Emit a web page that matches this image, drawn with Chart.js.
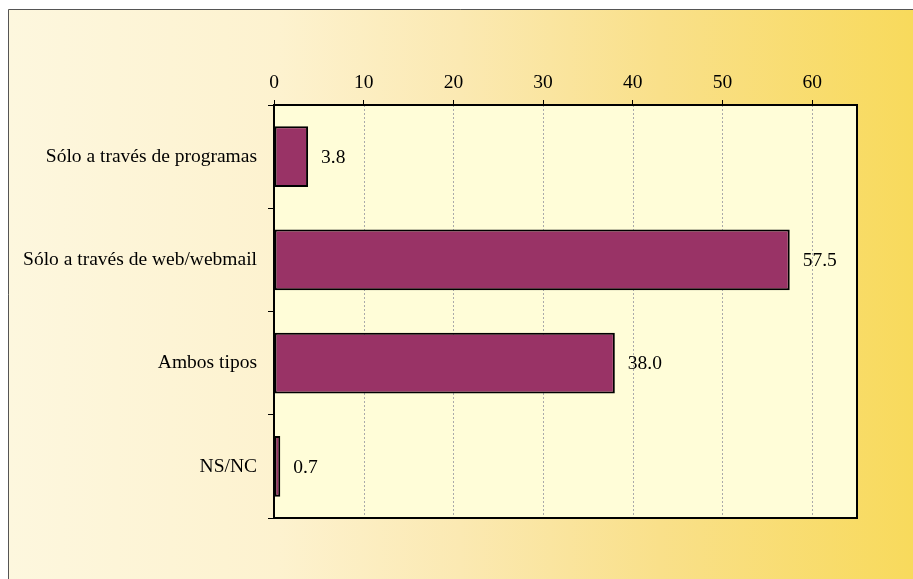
<!DOCTYPE html>
<html>
<head>
<meta charset="utf-8">
<script src="https://cdn.jsdelivr.net/npm/chart.js@4.4.0/dist/chart.umd.min.js"></script>
<style>
  html, body { margin: 0; padding: 0; background: #fff; }
  #wrap { width: 913px; height: 579px; }
</style>
</head>
<body>
<div id="wrap"><canvas id="grafico" width="913" height="579"></canvas></div>
<script>
const categorias = ['Sólo a través de programas', 'Sólo a través de web/webmail', 'Ambos tipos', 'NS/NC'];
const valores = [3.8, 57.5, 38.0, 0.7];
const ticksX = [0, 10, 20, 30, 40, 50, 60];

const fuente = "'Liberation Serif', 'Times New Roman', serif";
const tamFuente = 19.5;

// fondo con degradado, borde exterior y fondo del area de trazado
const fondoPlugin = {
    id: 'fondo',
    beforeDraw(chart) {
        const ctx = chart.ctx;
        const w = chart.width, h = chart.height;
        ctx.save();
        const g = ctx.createLinearGradient(8, 0, w, 0);
        g.addColorStop(0, '#fdf7de');
        g.addColorStop(0.3, '#fdf2cf');
        g.addColorStop(0.5, '#fbe9b2');
        g.addColorStop(0.72, '#f9e08a');
        g.addColorStop(1, '#f8da5c');
        ctx.fillStyle = g;
        ctx.fillRect(8, 9, w - 8, h - 9);
        ctx.strokeStyle = '#555';
        ctx.lineWidth = 1;
        ctx.beginPath();
        ctx.moveTo(8.5, h);
        ctx.lineTo(8.5, 9.5);
        ctx.lineTo(w, 9.5);
        ctx.stroke();
        const a = chart.chartArea;
        ctx.fillStyle = '#fffdd8';
        ctx.fillRect(a.left, a.top, a.right - a.left, a.bottom - a.top);
        ctx.restore();
    },
    afterDatasetsDraw(chart) {
        const ctx = chart.ctx;
        const a = chart.chartArea;
        ctx.save();
        ctx.strokeStyle = '#000';
        ctx.lineWidth = 2;
        ctx.strokeRect(a.left, a.top, a.right - a.left, a.bottom - a.top);
        // etiquetas de valores
        ctx.fillStyle = '#000';
        ctx.font = tamFuente + 'px ' + fuente;
        ctx.textBaseline = 'middle';
        ctx.textAlign = 'left';
        chart.getDatasetMeta(0).data.forEach((bar, i) => {
            ctx.fillText(valores[i].toFixed(1), bar.x + 13, bar.y + 1);
        });
        ctx.restore();
    }
};

new Chart(document.getElementById('grafico'), {
    type: 'bar',
    data: {
        labels: categorias,
        datasets: [{
            data: valores,
            backgroundColor: '#993366',
            borderColor: '#000',
            borderWidth: 2,
            borderSkipped: false,
            categoryPercentage: 1,
            barPercentage: 0.59
        }]
    },
    options: {
        indexAxis: 'y',
        responsive: false,
        animation: false,
        layout: { padding: { left: 0, top: 0, right: 56, bottom: 61 } },
        plugins: { legend: { display: false }, tooltip: { enabled: false } },
        scales: {
            x: {
                position: 'top',
                min: 0,
                max: 65,
                afterFit(scale) { scale.height = 105; },
                afterBuildTicks(scale) { scale.ticks = ticksX.map(v => ({ value: v })); },
                border: { display: false },
                grid: {
                    tickColor: '#000',
                    tickLength: 5,
                    drawOnChartArea: false
                },
                ticks: {
                    color: '#000',
                    font: { family: fuente, size: tamFuente },
                    padding: 5
                }
            },
            y: {
                afterFit(scale) { scale.width = 274; },
                border: { display: false },
                grid: {
                    drawOnChartArea: false,
                    tickColor: '#000',
                    tickLength: 6,
                    offset: true
                },
                ticks: {
                    color: '#000',
                    font: { family: fuente, size: tamFuente },
                    padding: 11
                }
            }
        }
    },
    plugins: [fondoPlugin, {
        id: 'rejillaDiscontinua',
        beforeDatasetsDraw(chart) {
            // lineas verticales discontinuas
            const ctx = chart.ctx;
            const a = chart.chartArea;
            const x = chart.scales.x;
            ctx.save();
            ctx.strokeStyle = '#aaa';
            ctx.lineWidth = 1;
            ctx.setLineDash([2, 2]);
            ticksX.forEach(v => {
                if (v === 0) return;
                const px = Math.round(x.getPixelForValue(v)) + 0.5;
                ctx.beginPath();
                ctx.moveTo(px, a.top);
                ctx.lineTo(px, a.bottom);
                ctx.stroke();
            });
            ctx.restore();
        }
    }]
});
</script>
</body>
</html>
